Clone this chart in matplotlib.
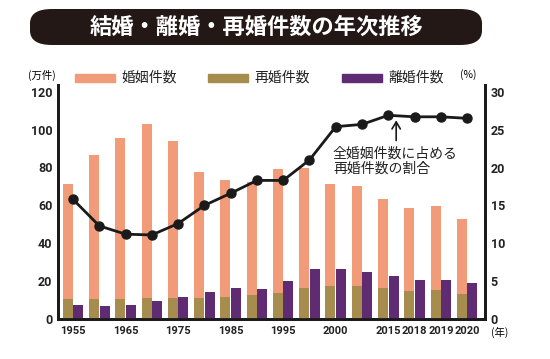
import numpy as np
import matplotlib
matplotlib.use("Agg")
import matplotlib.pyplot as plt
from matplotlib.patches import FancyBboxPatch, Rectangle

plt.rcParams['font.family'] = ['Noto Sans CJK JP', 'DejaVu Sans']

# data
tick_labels = ['1955', '', '1965', '', '1975', '', '1985', '', '1995', '',
               '2000', '', '2015', '2018', '2019', '2020']
marriages = [71.5, 86.6, 95.5, 102.9, 94.2, 77.5, 73.6, 72.2,
             79.2, 79.8, 71.4, 70.0, 63.5, 58.6, 59.9, 52.6]      # 万件
remarriages = [10.8, 10.3, 10.3, 10.9, 11.3, 11.3, 11.6, 12.5,
               13.8, 16.2, 17.3, 17.3, 16.5, 15.0, 15.3, 13.2]    # 万件
divorces = [7.2, 6.7, 7.4, 9.4, 11.8, 14.0, 16.5, 15.6,
            20.0, 26.6, 26.3, 25.0, 22.6, 20.8, 20.8, 19.1]       # 万件
ratio = [15.8, 12.3, 11.2, 11.1, 12.6, 15.0, 16.6, 18.3,
         18.3, 21.0, 25.4, 25.7, 26.9, 26.7, 26.7, 26.5]          # %

c_marr = '#F19B78'
c_rem = '#A68D4D'
c_div = '#5F2C74'

fig = plt.figure(figsize=(5.5, 3.59), dpi=100)
ax = fig.add_axes([58 / 550, 1 - 319 / 359, (485 - 58) / 550, (319 - 85) / 359])
ax2 = ax.twinx()

x = np.arange(len(marriages))
w = 0.38
ax.bar(x - 0.2, marriages, w, color=c_marr, zorder=2)
ax.bar(x - 0.2, remarriages, w, color=c_rem, zorder=3)
ax.bar(x + 0.2, divorces, w, color=c_div, zorder=3)

ax2.plot(x, ratio, color='#1a1a1a', lw=2, marker='o', ms=6.5, zorder=5)

ax.set_xlim(-0.57, 15.68)
ax.set_ylim(0, 123.5)
ax2.set_ylim(0, 30.9)
ax.set_yticks(range(0, 121, 20))
ax2.set_yticks(range(0, 31, 5))
ax.set_xticks(x)
ax.set_xticklabels(tick_labels)

tick_font = dict(family='Roboto', weight='bold', size=9, color='#222222')
for lab in ax.get_yticklabels() + ax2.get_yticklabels():
    lab.set(**tick_font)
for lab in ax.get_xticklabels():
    lab.set(**tick_font)
    lab.set_fontsize(8)

ax.tick_params(axis='x', length=0, pad=5)
ax.tick_params(axis='y', length=0, pad=4)
ax2.tick_params(axis='y', length=0, pad=4)

for a in (ax, ax2):
    a.spines['top'].set_visible(False)
    for s in ('left', 'right', 'bottom'):
        a.spines[s].set_linewidth(2)
        a.spines[s].set_color('#1a1a1a')
ax2.set_zorder(ax.get_zorder() + 1)
ax2.patch.set_visible(False)

# title banner
fig.patches.append(FancyBboxPatch((30 / 550, 1 - 45 / 359), 452 / 550, 36 / 359,
                                  boxstyle='round,pad=0,rounding_size=0.04',
                                  transform=fig.transFigure, facecolor='#231815',
                                  edgecolor='none'))
fig.text(256 / 550, 1 - 27 / 359, '結婚・離婚・再婚件数の年次推移', color='white',
         fontsize=16, fontweight='bold', ha='center', va='center')

# legend row
legend_items = [('婚姻件数', c_marr, 75), ('再婚件数', c_rem, 208), ('離婚件数', c_div, 342)]
for text, col, x0 in legend_items:
    fig.patches.append(Rectangle((x0 / 550, 1 - 82 / 359), 40 / 550, 8 / 359,
                                 transform=fig.transFigure, color=col))
    fig.text((x0 + 46) / 550, 1 - 78 / 359, text, fontsize=10, va='center', ha='left',
             color='#222222')
fig.text(42 / 550, 1 - 75 / 359, '(万件)', fontsize=7.5, ha='center', va='center')
fig.text(468 / 550, 1 - 75 / 359, '(%)', fontsize=7.5, ha='center', va='center')
fig.text(491 / 550, 1 - 332 / 359, '(年)', fontsize=7.5, ha='left', va='center')

# annotation
ax2.annotate('', xy=(12.3, 26.6), xytext=(12.3, 23.2),
             arrowprops=dict(arrowstyle='->,head_length=0.5,head_width=0.3',
                             color='#1a1a1a', lw=1.2), zorder=6)
fig.text(333 / 550, 1 - 161 / 359, '全婚姻件数に占める\n再婚件数の割合',
         fontsize=10, ha='left', va='center', linespacing=1.1, color='#222222')

fig.savefig('out.png', dpi=100)
